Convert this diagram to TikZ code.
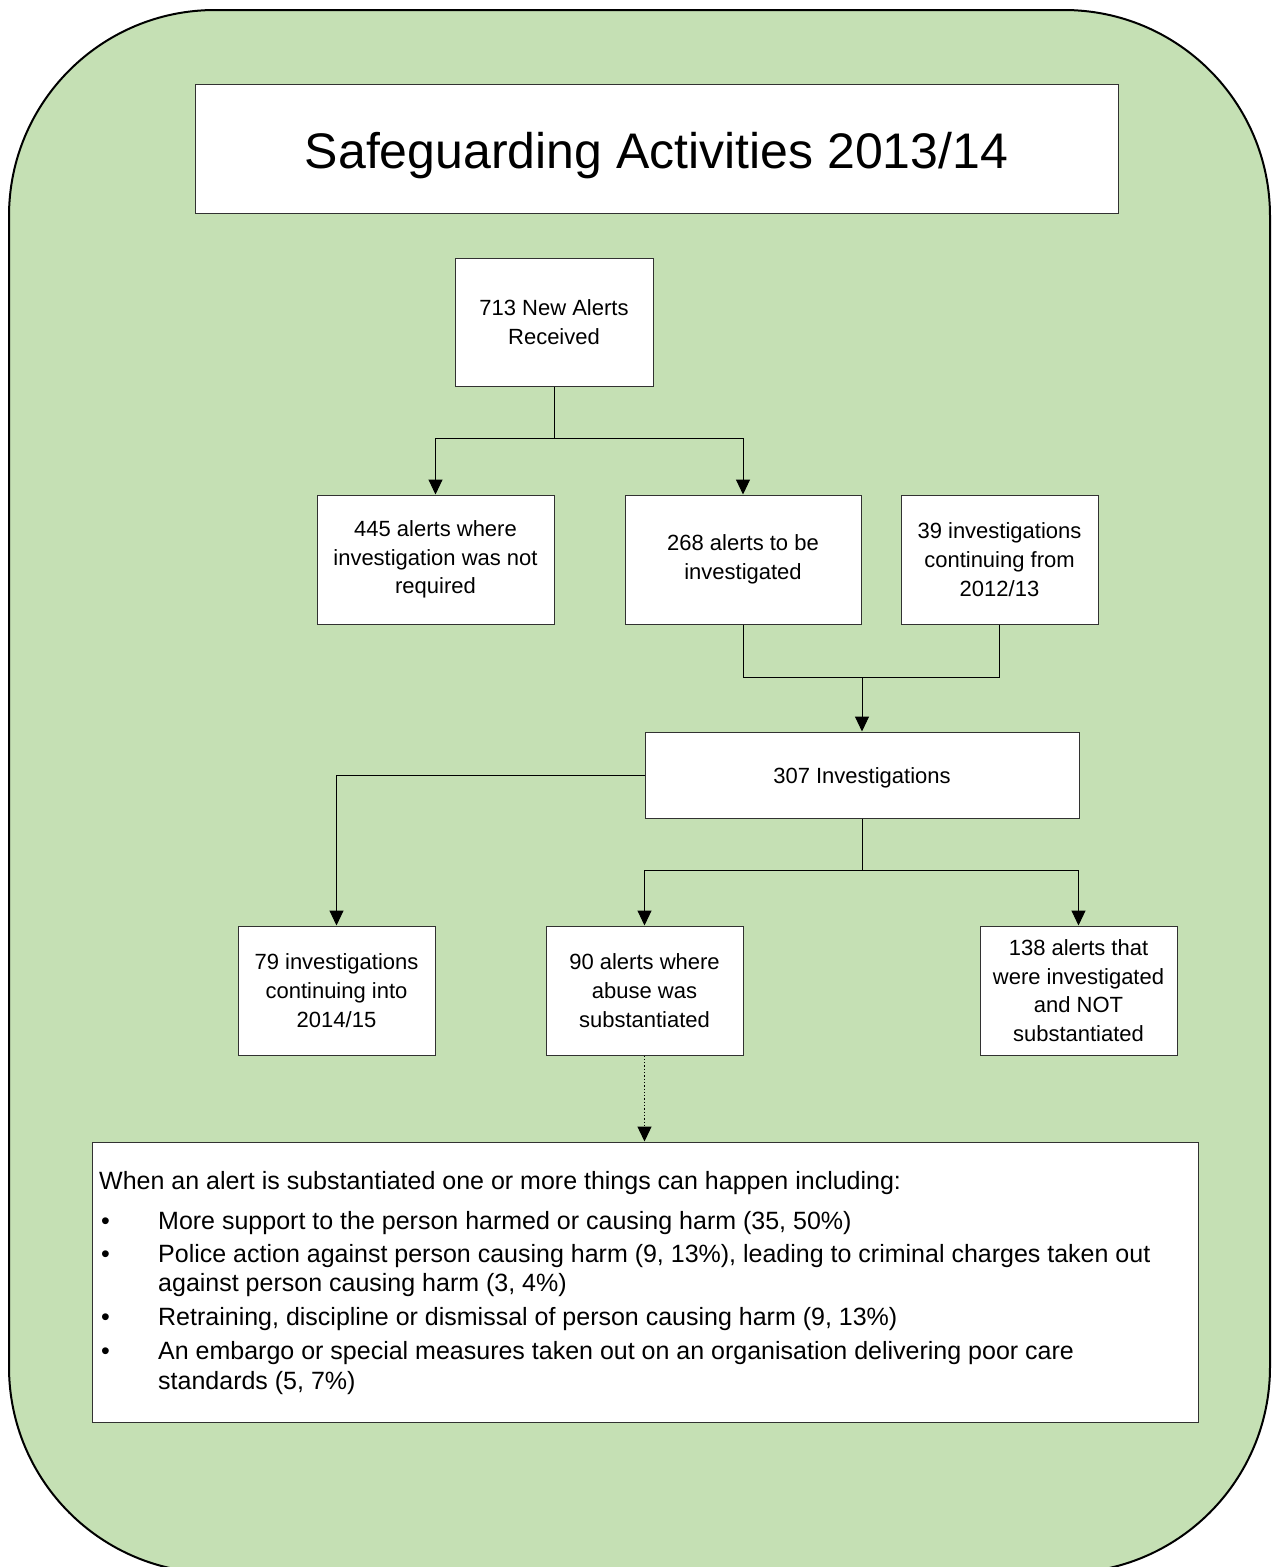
\documentclass[tikz,border=0pt]{standalone}
\usepackage{fontspec}
\setmainfont{Liberation Sans}
\usetikzlibrary{arrows.meta}
\definecolor{bggreen}{RGB}{197,224,180}
\definecolor{edgegray}{RGB}{50,50,50}
\begin{document}
\begin{tikzpicture}[x=1pt,y=-1pt,
  box/.style={draw=edgegray, fill=white, line width=1pt, inner sep=0pt, align=center,
    font=\fontsize{22}{28.7}\selectfont},
  conn/.style={line width=1pt, draw=black},
  arr/.style={conn, -{Triangle[length=15pt,width=14pt]}},
  dotarr/.style={line width=1.3pt, draw=black, dotted, -{Triangle[length=15pt,width=14pt]}},
  subline/.style={anchor=base west, inner sep=0pt, font=\fontsize{25}{30}\selectfont}
]
\useasboundingbox (0,0) rectangle (1273,1567);
\begin{scope}
\clip (0,0) rectangle (1273,1567);
\draw[fill=bggreen, draw=black, line width=2pt, rounded corners=206pt] (9,10) rectangle (1270,1573);
\end{scope}

% title
\node[box, minimum width=923pt, minimum height=129pt] (title) at (656.5,149) {};
\node[inner sep=0pt, anchor=base, font=\fontsize{50}{60}\selectfont] (titletext) at (656.5,168) {Safeguarding Activities 2013/14};

% boxes
\node[box, minimum width=198pt, minimum height=128pt] (n713) at (554,322) {713 New Alerts\\Received};
\node[box, minimum width=237pt, minimum height=129pt] (n445) at (435.5,559.5) {445 alerts where\\investigation was not\\required};
\node[box, minimum width=236pt, minimum height=129pt] (n268) at (743,559.5) {268 alerts to be\\investigated};
\node[box, minimum width=197pt, minimum height=129pt] (n39) at (999.5,559.5) {39 investigations\\continuing from\\2012/13};
\node[box, minimum width=434pt, minimum height=86pt] (n307) at (862,775) {};
\node[inner sep=0pt, anchor=base, font=\fontsize{22}{28.7}\selectfont] (n307text) at (862,783) {307 Investigations};
\node[box, minimum width=197pt, minimum height=129pt] (n79) at (336.5,990.5) {79 investigations\\continuing into\\2014/15};
\node[box, minimum width=197pt, minimum height=129pt] (n90) at (644.5,990.5) {90 alerts where\\abuse was\\substantiated};
\node[box, minimum width=197pt, minimum height=129pt] (n138) at (1078.5,990.5) {138 alerts that\\were investigated\\and NOT\\substantiated};
\node[box, minimum width=1106pt, minimum height=280pt] (sub) at (645,1282) {};

% connectors
\draw[conn] (n713.south) -- ++(0,52) coordinate (j1);
\draw[arr] (j1) -| (n445.north);
\draw[arr] (j1) -| (n268.north);
\draw[conn] (n268.south) -- ++(0,53) coordinate (j2a);
\draw[conn] (n39.south) -- ++(0,53) coordinate (j2b);
\draw[conn] (j2a) -- (j2b);
\coordinate (j2) at (862,677);
\draw[arr] (j2) -- (n307.north);
\draw[arr] (n307.west) -| (n79.north);
\draw[conn] (n307.south) -- ++(0,52) coordinate (j3);
\draw[arr] (j3) -| (n90.north);
\draw[arr] (j3) -| (n138.north);
\draw[dotarr] (n90.south) -- (sub.north -| n90.south);

% substantiated text
\node[subline] (s0) at (99,1189) {When an alert is substantiated one or more things can happen including:};
\node[subline] (s1) at (99,1229) {\makebox[59pt][l]{\hspace{2pt}\textbullet}More support to the person harmed or causing harm (35, 50\%)};
\node[subline] (s2) at (99,1262) {\makebox[59pt][l]{\hspace{2pt}\textbullet}Police action against person causing harm (9, 13\%), leading to criminal charges taken out};
\node[subline] (s3) at (158,1291) {against person causing harm (3, 4\%)};
\node[subline] (s4) at (99,1325) {\makebox[59pt][l]{\hspace{2pt}\textbullet}Retraining, discipline or dismissal of person causing harm (9, 13\%)};
\node[subline] (s5) at (99,1359) {\makebox[59pt][l]{\hspace{2pt}\textbullet}An embargo or special measures taken out on an organisation delivering poor care};
\node[subline] (s6) at (158,1389) {standards (5, 7\%)};
\end{tikzpicture}
\end{document}
